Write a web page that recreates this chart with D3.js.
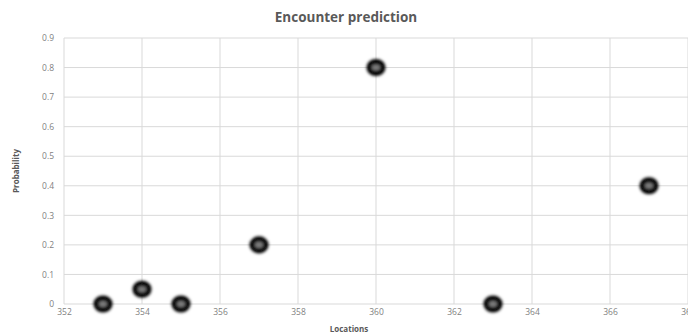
<!DOCTYPE html>
<html>
<head>
<meta charset="utf-8">
<script src="https://cdn.jsdelivr.net/npm/d3@7"></script>
<style>
  html, body { margin: 0; padding: 0; background: #fff; overflow: hidden; }
  svg { display: block; font-family: "Open Sans", "Noto Sans", sans-serif; }
</style>
</head>
<body>
<svg id="chart" width="688" height="335"></svg>
<script>
// Encounter probability at each location
const locations = [353, 354, 355, 357, 360, 363, 367];
const probabilities = [0, 0.05, 0, 0.2, 0.8, 0, 0.4];
const xTicks = [352, 354, 356, 358, 360, 362, 364, 366, 368];
const yTicks = [0, 0.1, 0.2, 0.3, 0.4, 0.5, 0.6, 0.7, 0.8, 0.9];

const svg = d3.select("#chart");
const W = 688, H = 335;
const margin = { left: 64, right: 0, top: 38, bottom: 31 };

const x = d3.scaleLinear().domain([352, 368]).range([margin.left, W - margin.right]);
const y = d3.scaleLinear().domain([0, 0.9]).range([H - margin.bottom, margin.top]);

// Soft marker look
const defs = svg.append("defs");
defs.append("filter").attr("id", "soft")
  .attr("x", "-50%").attr("y", "-50%").attr("width", "200%").attr("height", "200%")
  .append("feGaussianBlur").attr("stdDeviation", 1.7);

// Gridlines
const grid = svg.append("g");
grid.selectAll("line.h").data(yTicks).join("line")
  .attr("x1", x(352)).attr("x2", W)
  .attr("y1", d => y(d)).attr("y2", d => y(d))
  .attr("stroke", "#d9d9d9").attr("stroke-width", 1);
grid.selectAll("line.v").data(xTicks).join("line")
  .attr("x1", d => x(d)).attr("x2", d => x(d))
  .attr("y1", y(0.9)).attr("y2", y(0))
  .attr("stroke", "#d9d9d9").attr("stroke-width", 1);

// Axes (labels only)
const yAxis = svg.append("g")
  .attr("transform", `translate(${x(352)},0)`)
  .call(d3.axisLeft(y).tickValues(yTicks).tickSize(0).tickPadding(10).tickFormat(d3.format("~g")));
const xAxis = svg.append("g")
  .attr("transform", `translate(0,${y(0)})`)
  .call(d3.axisBottom(x).tickValues(xTicks).tickSize(0).tickPadding(5).tickFormat(d3.format("d")));
[yAxis, xAxis].forEach(g => {
  g.select(".domain").remove();
  g.selectAll("text").attr("fill", "#7f7f7f").style("font-size", "8.5px")
    .style("font-family", "'Open Sans', sans-serif");
});

// Markers
const pts = locations.map((d, i) => ({ x: d, y: probabilities[i] }));
const marks = svg.append("g").attr("filter", "url(#soft)");
marks.selectAll("ellipse").data(pts).join("ellipse")
  .attr("cx", d => x(d.x)).attr("cy", d => y(d.y))
  .attr("rx", 6.8).attr("ry", 5.8)
  .attr("fill", "#7a7a7a").attr("stroke", "#000").attr("stroke-width", 5.5);

// Title
svg.append("text")
  .attr("x", 346).attr("y", 22)
  .attr("text-anchor", "middle")
  .attr("fill", "#595959")
  .style("font-size", "13.5px").style("font-weight", "bold")
  .text("Encounter prediction");

// Axis titles
svg.append("text")
  .attr("transform", `translate(19,${(y(0) + y(0.9)) / 2}) rotate(-90)`)
  .attr("text-anchor", "middle")
  .attr("fill", "#595959")
  .style("font-size", "8px").style("font-weight", "bold")
  .text("Probability");
svg.append("text")
  .attr("x", 349).attr("y", 332)
  .attr("text-anchor", "middle")
  .attr("fill", "#595959")
  .style("font-size", "8px").style("font-weight", "bold")
  .text("Locations");
</script>
</body>
</html>
